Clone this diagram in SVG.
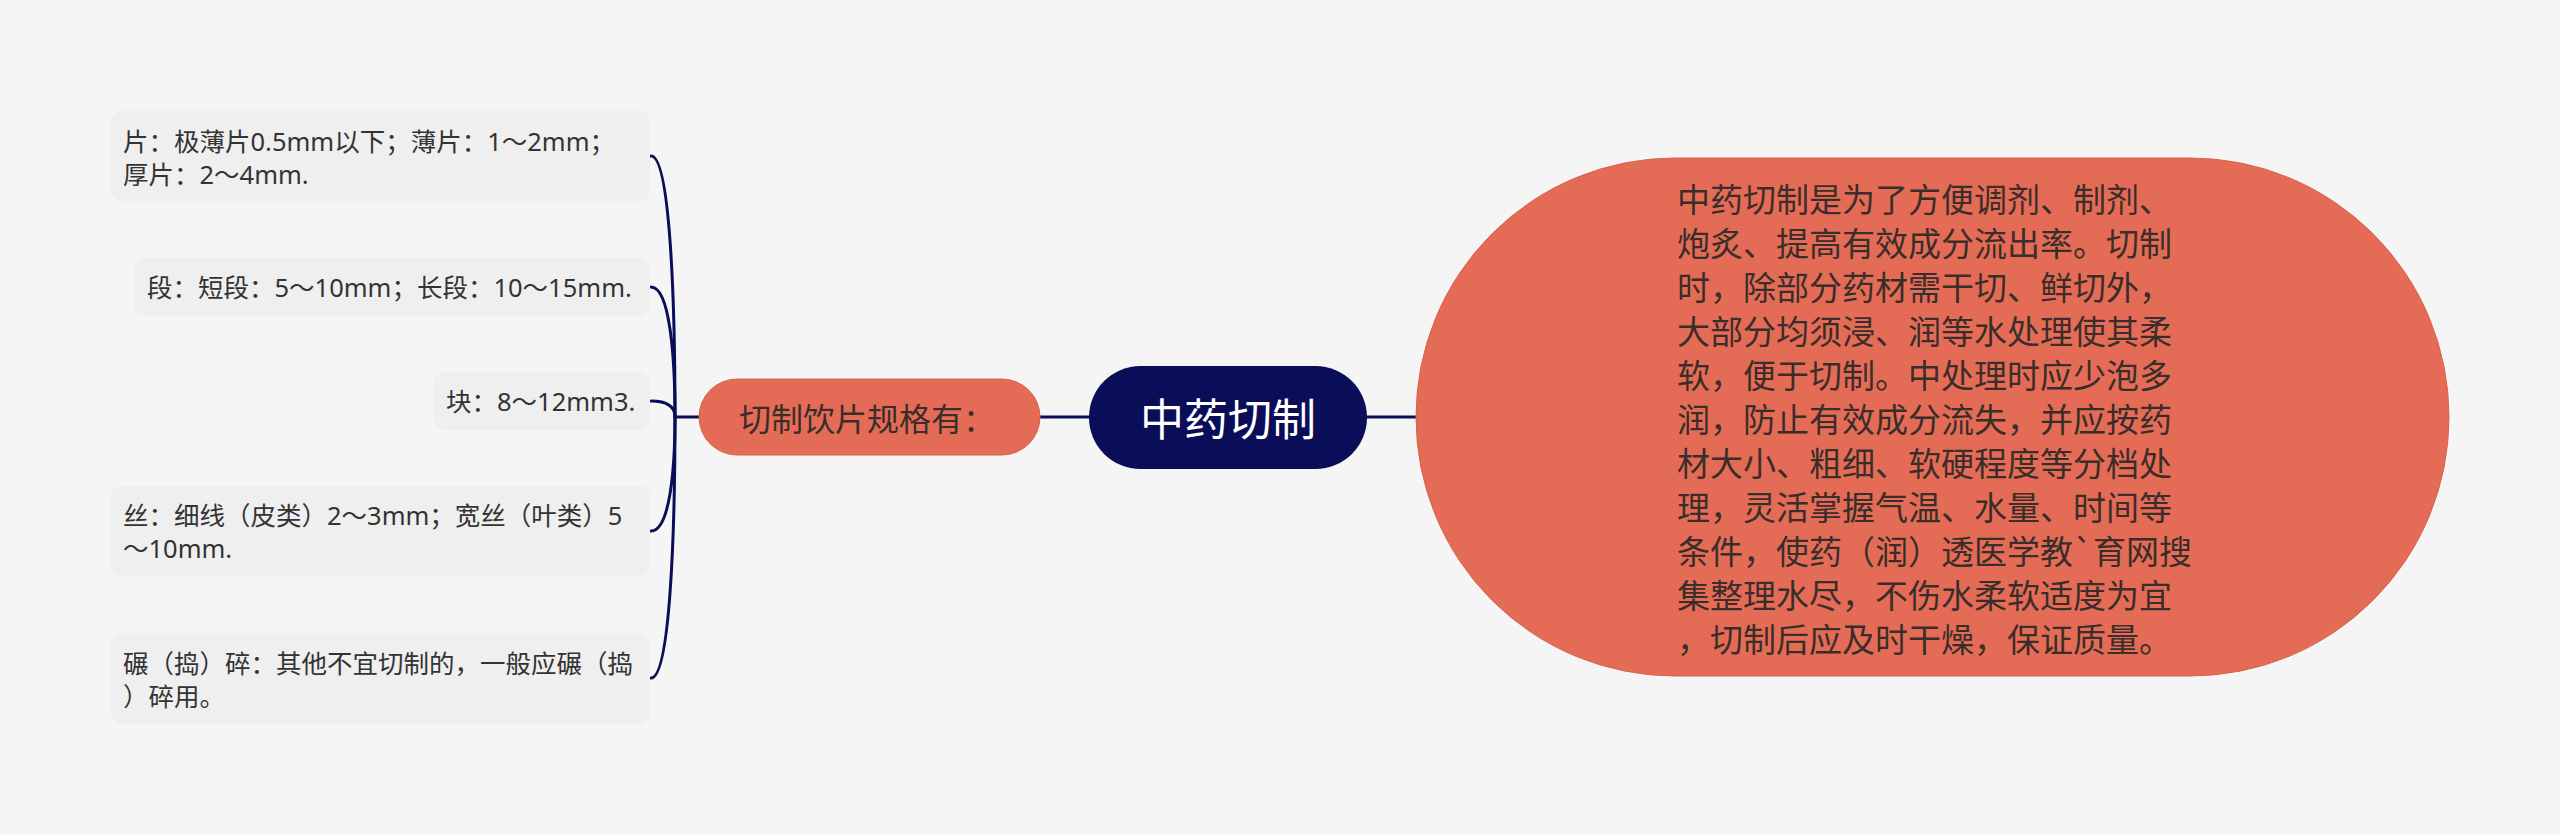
<svg xmlns="http://www.w3.org/2000/svg" width="2560" height="835" viewBox="0 0 2560 835">
<style>
.bg{fill:#f5f5f5}
.leaf rect{fill:#efefef}
.leaf text{font-family:"Noto Sans","Noto Sans CJK SC",sans-serif;font-size:25.5px;fill:#333333;dominant-baseline:central}
.conn{fill:none;stroke:#0a0e58;stroke-width:3;stroke-linecap:round}
.orange{fill:#e46c56;stroke:#d8634e;stroke-width:1}
.t32{font-family:"Noto Sans CJK SC","Noto Sans",sans-serif;font-size:32px;fill:#3a2d2a;dominant-baseline:central}
.body{font-family:"Noto Sans CJK SC","Noto Sans",sans-serif;font-size:33px;fill:#3a2d2a;dominant-baseline:central}
.root text{font-family:"Noto Sans CJK SC","Noto Sans",sans-serif;font-size:44px;fill:#ffffff;dominant-baseline:central;text-anchor:middle}
</style>
<rect class="bg" x="0" y="0" width="2560" height="835"/>
<g id="connectors">
<path class="conn" d="M1367 417 L1416 417"/>
<path class="conn" d="M1040 417 L1089 417"/>
<path class="conn" d="M675 417 L699 417"/>
<path class="conn" d="M651 156 C670 156 675 299 675 417"/>
<path class="conn" d="M651 287 C670 287 675 358 675 417"/>
<path class="conn" d="M651 401 C670 401 675 409 675 417"/>
<path class="conn" d="M651 531 C670 531 675 468 675 417"/>
<path class="conn" d="M651 678 C670 678 675 534 675 417"/>
</g>
<g id="node-root" class="root">
<rect x="1089" y="366" width="278" height="103" rx="51.5" fill="#0a0e58"/>
<text x="1228" y="417">中药切制</text>
</g>
<g id="node-desc">
<rect class="orange" x="1416" y="158" width="1033" height="518" rx="259" ry="259"/>
<text class="body">
<tspan x="1677" y="198">中药切制是为了方便调剂、制剂、</tspan>
<tspan x="1677" y="242">炮炙、提高有效成分流出率。切制</tspan>
<tspan x="1677" y="286">时，除部分药材需干切、鲜切外，</tspan>
<tspan x="1677" y="330">大部分均须浸、润等水处理使其柔</tspan>
<tspan x="1677" y="374">软，便于切制。中处理时应少泡多</tspan>
<tspan x="1677" y="418">润，防止有效成分流失，并应按药</tspan>
<tspan x="1677" y="462">材大小、粗细、软硬程度等分档处</tspan>
<tspan x="1677" y="506">理，灵活掌握气温、水量、时间等</tspan>
<tspan x="1677" y="550">条件，使药（润）透医学教`育网搜</tspan>
<tspan x="1677" y="594">集整理水尽，不伤水柔软适度为宜</tspan>
<tspan x="1677" y="638">，切制后应及时干燥，保证质量。</tspan>
</text>
</g>
<g id="node-spec">
<rect class="orange" x="699" y="379" width="341" height="76" rx="38"/>
<text class="t32" x="739" y="417">切制饮片规格有：</text>
</g>
<g id="leaf-1" class="leaf">
<rect x="111" y="111" width="539" height="90" rx="10"/>
<text><tspan x="123" y="141">片：极薄片0.5mm以下；薄片：1～2mm；</tspan><tspan x="123" y="174">厚片：2～4mm.</tspan></text>
</g>
<g id="leaf-2" class="leaf">
<rect x="134" y="258" width="516" height="58" rx="10"/>
<text x="147" y="287">段：短段：5～10mm；长段：10～15mm.</text>
</g>
<g id="leaf-3" class="leaf">
<rect x="434" y="372" width="216" height="58" rx="10"/>
<text x="446" y="401">块：8～12mm3.</text>
</g>
<g id="leaf-4" class="leaf">
<rect x="111" y="486" width="539" height="90" rx="10"/>
<text><tspan x="123" y="515">丝：细线（皮类）2～3mm；宽丝（叶类）5</tspan><tspan x="123" y="548">～10mm.</tspan></text>
</g>
<g id="leaf-5" class="leaf">
<rect x="111" y="633" width="539" height="91" rx="10"/>
<text><tspan x="123" y="663">碾（捣）碎：其他不宜切制的，一般应碾（捣</tspan><tspan x="123" y="696">）碎用。</tspan></text>
</g>
</svg>
